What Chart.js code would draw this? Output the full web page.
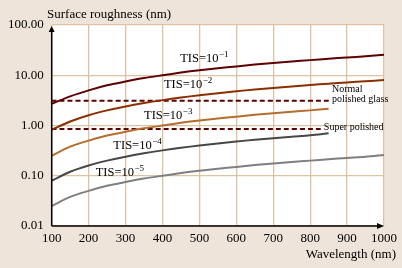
<!DOCTYPE html>
<html>
<head>
<meta charset="utf-8">
<script src="https://cdn.jsdelivr.net/npm/chart.js@4/dist/chart.umd.min.js"></script>
<style>
html,body{margin:0;padding:0;background:#efe4d9;}
#wrap{width:402px;height:268px;position:relative;}
</style>
</head>
<body>
<div id="wrap"><canvas id="c" width="402" height="268"></canvas></div>
<script>
// ---- data ----
const wavelengths = [100,150,200,250,300,350,400,450,500,550,600,650,700,750,800,850,900,950,1000];
const tis1 = [2.7,3.8,5.0,6.3,7.5,8.8,10.0,11.3,12.6,13.8,15.0,16.3,17.6,18.8,20.0,21.3,22.6,23.8,25.5];
const tis2 = [0.82,1.2,1.6,2.0,2.4,2.8,3.2,3.6,4.0,4.4,4.8,5.2,5.6,6.0,6.4,6.8,7.2,7.6,8.0];
const tis3 = [0.25,0.38,0.5,0.63,0.75,0.88,1.0,1.13,1.26,1.38,1.5,1.63,1.76,1.88,2.0,2.15];
const tis4 = [0.08,0.12,0.16,0.2,0.24,0.28,0.32,0.36,0.4,0.44,0.48,0.52,0.56,0.6,0.64,0.7];
const tis5 = [0.025,0.038,0.05,0.063,0.075,0.088,0.1,0.113,0.126,0.138,0.15,0.163,0.176,0.188,0.2,0.213,0.226,0.238,0.26];
const glassX = [100, 855];
const glassY = [3.1, 3.1];
const superX = [100, 830];
const superY = [0.85, 0.85];
const xTicks = [100,200,300,400,500,600,700,800,900,1000];
const yTicks = [0.01,0.1,1,10,100];
const yTickLabels = ["0.01","0.10","1.00","10.00","100.00"];
const curveLabels = [
  {exp:"\u22121", x:448, y:21.5},
  {exp:"\u22122", x:404, y:6.4},
  {exp:"\u22123", x:350, y:1.6},
  {exp:"\u22124", x:267, y:0.40},
  {exp:"\u22125", x:219, y:0.113}
];
const noteLabels = [
  {text:"Normal", x:859, y:5.3},
  {text:"polished glass", x:859, y:3.3},
  {text:"Super polished", x:837, y:0.9}
];

function pts(xs, ys){ return ys.map((v,i)=>({x:xs[i], y:v})); }

const SERIF = '"Liberation Serif","DejaVu Serif",serif';

const decor = {
  id:'decor',
  beforeDraw(chart){
    const {ctx, chartArea:a} = chart;
    ctx.save();
    ctx.fillStyle = '#efe4d9';
    ctx.fillRect(0,0,chart.width,chart.height);
    ctx.fillStyle = '#ffffff';
    ctx.fillRect(a.left,a.top,a.right-a.left,a.bottom-a.top);
    ctx.restore();
  },
  afterDraw(chart){
    const {ctx, chartArea:a, scales} = chart;
    const xs = scales.x, ys = scales.y;
    ctx.save();
    // axes
    ctx.strokeStyle = '#000';
    ctx.lineWidth = 1.5;
    ctx.beginPath();
    ctx.moveTo(a.left, a.bottom); ctx.lineTo(a.left, a.top+4);
    ctx.moveTo(a.left, a.bottom); ctx.lineTo(a.right-4, a.bottom);
    ctx.stroke();
    ctx.fillStyle = '#000';
    ctx.beginPath();
    ctx.moveTo(a.left, a.top+1); ctx.lineTo(a.left-3, a.top+7); ctx.lineTo(a.left+3, a.top+7); ctx.closePath(); ctx.fill();
    ctx.beginPath();
    ctx.moveTo(a.right, a.bottom); ctx.lineTo(a.right-7, a.bottom-3); ctx.lineTo(a.right-7, a.bottom+3); ctx.closePath(); ctx.fill();
    // titles
    ctx.font = '13px ' + SERIF;
    ctx.textBaseline = 'alphabetic';
    ctx.textAlign = 'left';
    ctx.fillText('Surface roughness (nm)', 47, 18);
    ctx.textAlign = 'right';
    ctx.fillText('Wavelength (nm)', 396, 258);
    // curve labels
    ctx.textAlign = 'left';
    ctx.textBaseline = 'middle';
    curveLabels.forEach(l=>{
      const px = xs.getPixelForValue(l.x), py = ys.getPixelForValue(l.y);
      ctx.font = '12.5px ' + SERIF;
      ctx.fillText('TIS=10', px, py);
      const w = ctx.measureText('TIS=10').width;
      ctx.font = '9px ' + SERIF;
      ctx.fillText(l.exp, px + w + 0.5, py - 4);
    });
    ctx.font = '10px ' + SERIF;
    noteLabels.forEach(l=>{
      ctx.fillText(l.text, xs.getPixelForValue(l.x), ys.getPixelForValue(l.y));
    });
    ctx.restore();
  }
};

const lineDs = (label, data, color, dash) => ({
  label, data, borderColor: color, backgroundColor: color,
  borderWidth: 2, pointRadius: 0, tension: 0.3, fill: false,
  borderDash: dash || []
});

new Chart(document.getElementById('c'), {
  type: 'line',
  data: {
    datasets: [
      lineDs('TIS=10^-1', pts(wavelengths, tis1), '#5c0000'),
      lineDs('TIS=10^-2', pts(wavelengths, tis2), '#8b2e00'),
      lineDs('TIS=10^-3', pts(wavelengths, tis3), '#b56d2e'),
      lineDs('TIS=10^-4', pts(wavelengths, tis4), '#474747'),
      lineDs('TIS=10^-5', pts(wavelengths, tis5), '#7f7f7f'),
      lineDs('Normal polished glass', pts(glassX, glassY), '#5c0000', [5,3]),
      lineDs('Super polished', pts(superX, superY), '#5c0000', [5,3])
    ]
  },
  options: {
    responsive: false,
    animation: false,
    devicePixelRatio: 1,
    layout: { padding: { left: 0, top: 25, right: 14.5, bottom: 0 } },
    plugins: { legend: { display: false }, tooltip: { enabled: false } },
    scales: {
      x: {
        type: 'linear', min: 100, max: 1000,
        afterBuildTicks(s){ s.ticks = xTicks.map(v=>({value:v})); },
        afterFit(s){ s.height = 42; },
        grid: { color: '#ddc3a4', lineWidth: 1.3, drawTicks: false },
        border: { display: false },
        ticks: { color: '#000', font: { family: SERIF, size: 13 }, padding: 5, maxRotation: 0,
                 callback: v => String(v) }
      },
      y: {
        type: 'logarithmic', min: 0.01, max: 100,
        afterBuildTicks(s){ s.ticks = yTicks.map(v=>({value:v})); },
        afterFit(s){ s.width = 51.7; },
        grid: { color: '#ddc3a4', lineWidth: 1.3, drawTicks: false },
        border: { display: false },
        ticks: { color: '#000', font: { family: SERIF, size: 13 }, padding: 8,
                 callback: (v) => { const i = yTicks.indexOf(v); return i >= 0 ? yTickLabels[i] : ''; } }
      }
    }
  },
  plugins: [decor]
});
</script>
</body>
</html>
